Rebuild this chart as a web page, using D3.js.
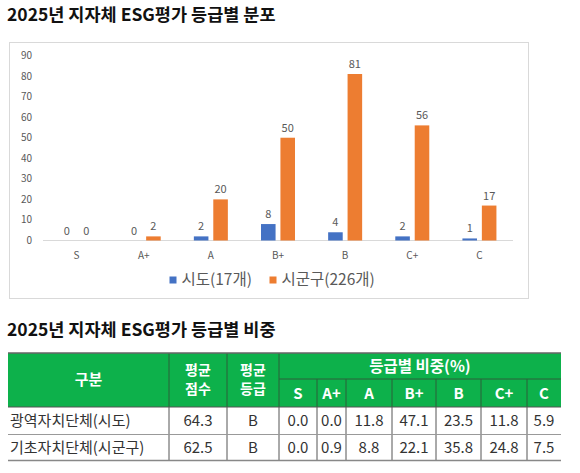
<!DOCTYPE html>
<html>
<head>
<meta charset="utf-8">
<script src="https://cdn.jsdelivr.net/npm/d3@7"></script>
<style>
  body { margin: 0; background: #fff; }
  text { font-family: "Noto Sans CJK KR", "Noto Sans", sans-serif; }
</style>
</head>
<body>
<div id="chart"></div>
<script>
// chart data
const grades = ["S", "A+", "A", "B+", "B", "C+", "C"];
const seriesNames = ["시도(17개)", "시군구(226개)"];
const sidoCounts = [0, 0, 2, 8, 4, 2, 1];
const sigunguCounts = [0, 2, 20, 50, 81, 56, 17];
const yTicks = [0, 10, 20, 30, 40, 50, 60, 70, 80, 90];

// table data
const tableGroups = ["광역자치단체(시도)", "기초자치단체(시군구)"];
const avgScores = ["64.3", "62.5"];
const avgGrades = ["B", "B"];
const sidoShares = ["0.0", "0.0", "11.8", "47.1", "23.5", "11.8", "5.9"];
const sigunguShares = ["0.0", "0.9", "8.8", "22.1", "35.8", "24.8", "7.5"];

const colors = ["#4472C4", "#ED7D31"];
const grey = "#595959";

const svg = d3.select("#chart").append("svg")
    .attr("width", 580)
    .attr("height", 473);

// titles
svg.append("text")
    .attr("x", 7).attr("y", 21)
    .style("font-size", "17.5px").style("font-weight", "bold").style("fill", "#111")
    .text("2025년 지자체 ESG평가 등급별 분포");

svg.append("text")
    .attr("x", 7).attr("y", 336)
    .style("font-size", "17.5px").style("font-weight", "bold").style("fill", "#111")
    .text("2025년 지자체 ESG평가 등급별 비중");

// chart frame
svg.append("rect")
    .attr("x", 9.5).attr("y", 42.5)
    .attr("width", 519).attr("height", 256)
    .style("fill", "#fff").style("stroke", "#d9d9d9");

const x0 = d3.scaleBand().domain(grades).range([43, 513]);
const pairWidth = 34;
const x1 = d3.scaleBand().domain(seriesNames).range([0, pairWidth]).paddingInner(0.25);
const y = d3.scaleLinear().domain([0, 90]).range([240.5, 55.5]);

// y axis labels
svg.append("g").selectAll("text")
    .data(yTicks)
    .enter().append("text")
    .attr("x", 32).attr("y", d => y(d))
    .attr("text-anchor", "end").attr("dy", "0.35em")
    .style("font-size", "10px").style("fill", grey)
    .text(d => d);

// baseline
svg.append("line")
    .attr("x1", x0.range()[0]).attr("x2", x0.range()[1])
    .attr("y1", y(0)).attr("y2", y(0))
    .style("stroke", "#d9d9d9");

// bars
const rows = grades.map((g, i) => ({ grade: g, values: [sidoCounts[i], sigunguCounts[i]] }));
const groups = svg.append("g").selectAll("g")
    .data(rows)
    .enter().append("g")
    .attr("transform", d => `translate(${x0(d.grade) + (x0.bandwidth() - pairWidth) / 2},0)`);

const items = groups.selectAll("g")
    .data(d => d.values.map((v, k) => ({ name: seriesNames[k], value: v, k: k })))
    .enter().append("g");

items.append("rect")
    .attr("x", d => x1(d.name))
    .attr("y", d => y(d.value))
    .attr("width", x1.bandwidth())
    .attr("height", d => y(0) - y(d.value))
    .style("fill", d => colors[d.k]);

items.append("text")
    .attr("x", d => x1(d.name) + x1.bandwidth() / 2)
    .attr("y", d => y(d.value) - 6)
    .attr("text-anchor", "middle")
    .style("font-size", "11px").style("fill", grey)
    .text(d => d.value);

// category labels
svg.append("g").selectAll("text")
    .data(grades)
    .enter().append("text")
    .attr("x", d => x0(d) + x0.bandwidth() / 2)
    .attr("y", 255).attr("dy", "0.35em")
    .attr("text-anchor", "middle")
    .style("font-size", "10px").style("fill", grey)
    .text(d => d);

// legend
const legendX = [169.5, 269.5];
const legend = svg.append("g").selectAll("g")
    .data(seriesNames)
    .enter().append("g")
    .attr("transform", (d, i) => `translate(${legendX[i]},280)`);
legend.append("rect")
    .attr("x", 0).attr("y", -3.5).attr("width", 7).attr("height", 7)
    .style("fill", (d, i) => colors[i]);
legend.append("text")
    .attr("x", 12).attr("dy", "0.35em")
    .style("font-size", "15.5px").style("fill", grey)
    .text(d => d);

// table
const green = "#0DB14B";
const colEdges = [8, 169, 227, 279, 317, 346, 392, 436, 481, 527, 561];
const yTop = 353, yMid = 379, yHead = 407, yRow1 = 434.5, yBottom = 460.5;
const t = svg.append("g");

t.append("rect")
    .attr("x", colEdges[0]).attr("y", yTop)
    .attr("width", colEdges[colEdges.length - 1] - colEdges[0]).attr("height", yHead - yTop)
    .style("fill", green);

const headLine = "#2d5e3a";
// header separators
[1, 2, 3].forEach(i => {
    t.append("line")
        .attr("x1", colEdges[i]).attr("x2", colEdges[i])
        .attr("y1", yTop).attr("y2", yHead)
        .style("stroke", headLine);
});
d3.range(4, 10).forEach(i => {
    t.append("line")
        .attr("x1", colEdges[i]).attr("x2", colEdges[i])
        .attr("y1", yMid).attr("y2", yHead)
        .style("stroke", headLine);
});
t.append("line")
    .attr("x1", colEdges[3]).attr("x2", colEdges[10])
    .attr("y1", yMid).attr("y2", yMid)
    .style("stroke", headLine);
t.append("line")
    .attr("x1", colEdges[0]).attr("x2", colEdges[10])
    .attr("y1", yTop).attr("y2", yTop)
    .style("stroke", "#666").style("stroke-width", 1.5);

// body lines
d3.range(1, 10).forEach(i => {
    t.append("line")
        .attr("x1", colEdges[i]).attr("x2", colEdges[i])
        .attr("y1", yHead).attr("y2", yBottom)
        .style("stroke", "#555");
});
[[yHead, "#555", 1], [yRow1, "#999", 1], [yBottom, "#888", 1.5]].forEach(([yy, c, w]) => {
    t.append("line")
        .attr("x1", colEdges[0]).attr("x2", colEdges[10])
        .attr("y1", yy).attr("y2", yy)
        .style("stroke", c).style("stroke-width", w);
});

const headStyle = sel => sel
    .attr("text-anchor", "middle").attr("dy", "0.35em")
    .style("font-size", "15px").style("font-weight", "bold").style("fill", "#fff");

const mid = i => (colEdges[i] + colEdges[i + 1]) / 2;
t.append("text").attr("x", mid(0)).attr("y", 380).call(headStyle).text("구분");

// two-line headers
[[1, "평균", "점수"], [2, "평균", "등급"]].forEach(([ci, a, b]) => {
    t.append("text").attr("x", mid(ci)).attr("y", 370.5).call(headStyle)
        .style("font-size", "14px").text(a);
    t.append("text").attr("x", mid(ci)).attr("y", 389.5).call(headStyle)
        .style("font-size", "14px").text(b);
});
t.append("text").attr("x", (colEdges[3] + colEdges[10]) / 2).attr("y", 367)
    .call(headStyle).style("font-size", "15.5px").text("등급별 비중(%)");
grades.forEach((g, i) => {
    t.append("text").attr("x", mid(i + 3)).attr("y", 394).call(headStyle).text(g);
});

const bodyRows = [
    [tableGroups[0], avgScores[0], avgGrades[0]].concat(sidoShares),
    [tableGroups[1], avgScores[1], avgGrades[1]].concat(sigunguShares)
];
const rowY = [(yHead + yRow1) / 2, (yRow1 + yBottom) / 2];
bodyRows.forEach((r, ri) => {
    t.append("g").selectAll("text")
        .data(r)
        .enter().append("text")
        .attr("x", (d, i) => i === 0 ? 10 : mid(i))
        .attr("y", rowY[ri]).attr("dy", "0.35em")
        .attr("text-anchor", (d, i) => i === 0 ? "start" : "middle")
        .style("font-size", "15px").style("fill", "#333")
        .text(d => d);
});
</script>
</body>
</html>
